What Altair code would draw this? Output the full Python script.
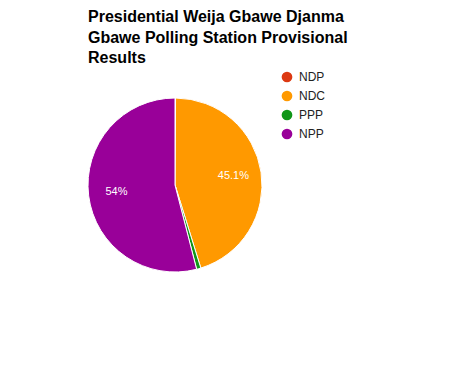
import altair as alt
import pandas as pd

parties = ["NDP", "NDC", "PPP", "NPP"]
shares = [0.1, 45.1, 0.8, 54.0]
colors = ["#dc3912", "#ff9900", "#109618", "#990099"]
title_lines = ["Presidential Weija Gbawe Djanma", "Gbawe Polling Station Provisional", "Results"]

df = pd.DataFrame({"party": parties, "share": shares, "idx": list(range(len(parties)))})

FONT = "Arial, Liberation Sans, sans-serif"
CX, CY, R = 87, 115, 87

base = alt.Chart(df).encode(
    theta=alt.Theta("share:Q", stack=True),
    order=alt.Order("idx:Q", sort="ascending"),
)

arcs = base.mark_arc(radius=R, stroke="white", strokeWidth=1).encode(
    x=alt.value(CX),
    y=alt.value(CY),
    color=alt.Color(
        "party:N",
        scale=alt.Scale(domain=parties, range=colors),
        legend=alt.Legend(
            orient="none",
            legendX=193,
            legendY=1,
            title=None,
            symbolType="circle",
            symbolSize=115,
            symbolStrokeWidth=0,
            labelFont=FONT,
            labelFontSize=12,
            labelColor="#222222",
            labelOffset=6,
            rowPadding=7,
            padding=0,
        ),
    ),
)

labels = base.transform_calculate(
    lab="datum.share + '%'"
).mark_text(radius=59, color="white", font=FONT, fontSize=11).encode(
    x=alt.value(CX),
    y=alt.value(CY),
    text=alt.condition("datum.share > 5", "lab:N", alt.value("")),
)

chart = alt.layer(arcs, labels).properties(
    width=369,
    height=301,
    padding={"left": 88, "top": 70, "right": 0, "bottom": 0},
    autosize=alt.AutoSizeParams(type="none"),
    title=alt.TitleParams(
        text=title_lines,
        anchor="start",
        frame="group",
        font=FONT,
        fontSize=16,
        fontWeight="bold",
        color="#000000",
        lineHeight=20.5,
        offset=4,
    ),
).configure(
    background="white",
    view=alt.ViewConfig(strokeWidth=0, stroke="transparent"),
)

chart.save("out.html", embed_options={"renderer": "svg", "actions": False})
